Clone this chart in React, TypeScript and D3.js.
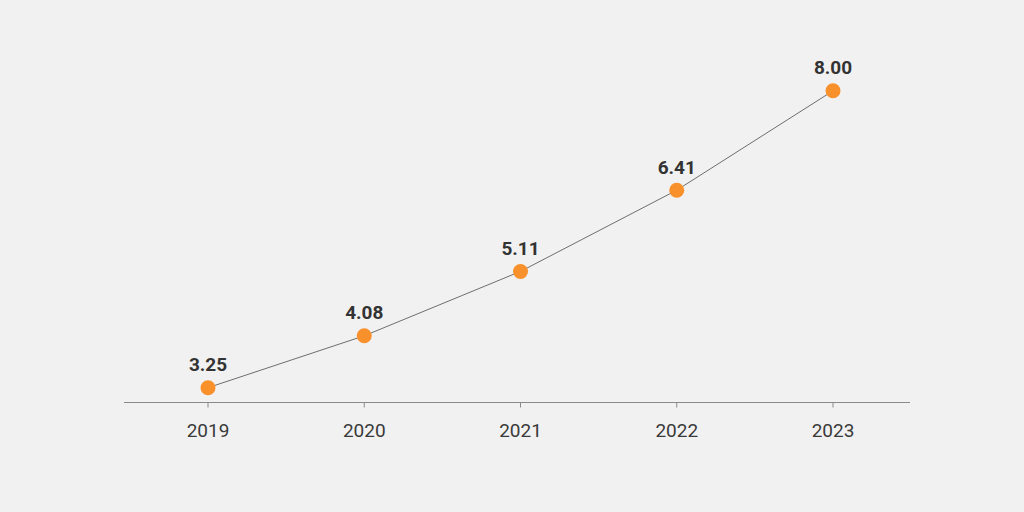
import React from "react";
import * as d3 from "d3";

const years = ["2019", "2020", "2021", "2022", "2023"];
const values = [3.25, 4.08, 5.11, 6.41, 8.0];

export default function App() {
  const W = 1024, H = 512;
  const x = d3.scalePoint<string>().domain(years).range([208, 833]);
  const y = d3.scaleLinear().domain([3.013, 8.0]).range([402.5, 90.8]);
  const line = d3.line<number>().x((_, i) => x(years[i])!).y((d) => y(d));
  const axisY = 402.5;
  return (
    <svg width={W} height={H} style={{ position: "absolute", left: 0, top: 0, display: "block" }}>
      <rect width={W} height={H} fill="#f1f1f1" />
      <line x1={124} x2={910} y1={axisY} y2={axisY} stroke="#8a8a8a" strokeWidth={1.2} />
      {years.map((yr) => (
        <g key={yr}>
          <line x1={x(yr)} x2={x(yr)} y1={axisY} y2={axisY + 5} stroke="#8a8a8a" strokeWidth={1} />
          <text x={x(yr)} y={437} textAnchor="middle" fontFamily="Roboto, sans-serif" fontSize={19} fill="#3a3a3a">
            {yr}
          </text>
        </g>
      ))}
      <path d={line(values)!} fill="none" stroke="#6e6e6e" strokeWidth={1} />
      {values.map((v, i) => (
        <g key={i}>
          <circle cx={x(years[i])} cy={y(v)} r={7.5} fill="#f8902c" />
          <text
            x={x(years[i])}
            y={y(v) - 16.5}
            textAnchor="middle"
            fontFamily="Roboto, sans-serif"
            fontWeight="bold"
            fontSize={19}
            fill="#333"
          >
            {v.toFixed(2)}
          </text>
        </g>
      ))}
    </svg>
  );
}
